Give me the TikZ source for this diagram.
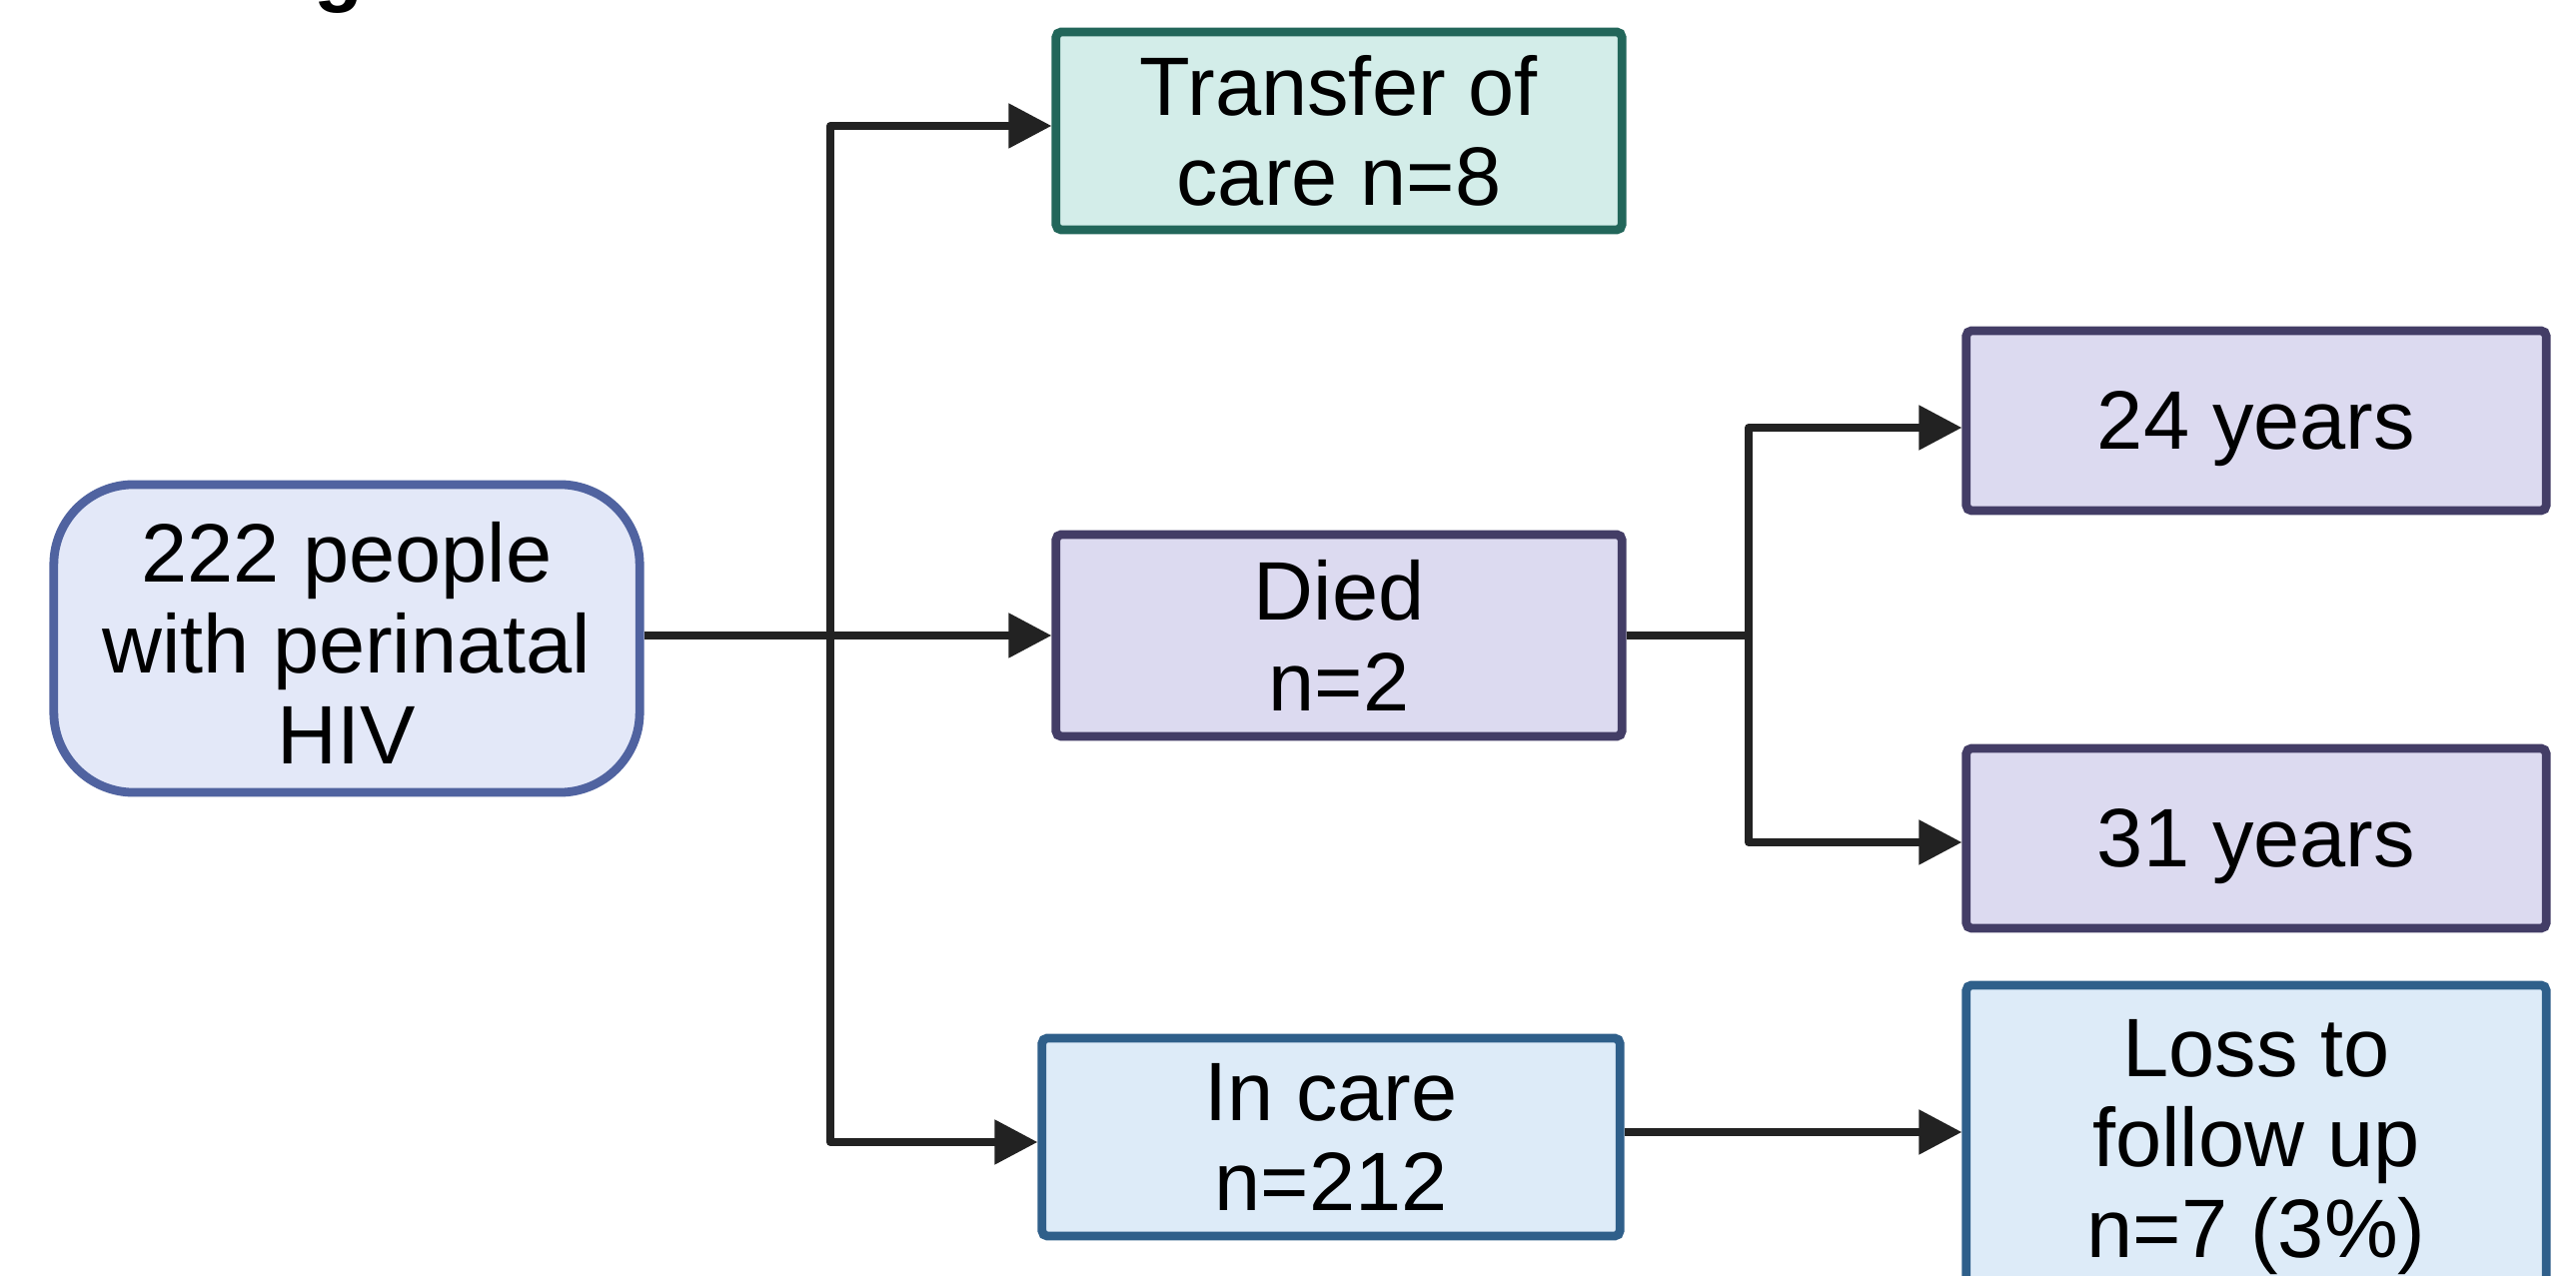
\documentclass[tikz,border=0pt]{standalone}
\usepackage{fontspec}
\setmainfont{Liberation Sans}
\usetikzlibrary{arrows.meta}

% box colours
\definecolor{srcfill}{HTML}{E3E8F8}
\definecolor{srcline}{HTML}{5063A0}
\definecolor{movefill}{HTML}{D3EDE9}
\definecolor{moveline}{HTML}{22665A}
\definecolor{diedfill}{HTML}{DCDAF0}
\definecolor{diedline}{HTML}{433D66}
\definecolor{carefill}{HTML}{DDEBF8}
\definecolor{careline}{HTML}{2F5F8A}
\definecolor{flowline}{HTML}{222222}

% pushes a three-line text a bit lower in its box
\newcommand{\firststrut}{\rule{0pt}{0.69cm}}

\begin{document}
\begin{tikzpicture}[x=0.01cm, y=-0.01cm,
        every node/.style={font=\fontsize{23.6}{25.8}\selectfont, align=center, inner sep=0pt},
        box/.style={draw, line width=2.5pt, rounded corners=1.5pt, minimum width=5.66cm, minimum height=2.02cm},
        agebox/.style={box, draw=diedline, fill=diedfill, minimum width=5.8cm, minimum height=1.8cm},
        flow/.style={draw=flowline, line width=2.3pt, line join=round, -{Triangle[length=0.43cm, width=0.43cm]}}]
        \useasboundingbox (0,0) rectangle (2578,1277);
        \clip (0,0) rectangle (2578,1277);

        % Title (cut off at the top)
        \node[anchor=base west, font=\fontsize{22.8}{24}\selectfont\bfseries] (title) at (314,-3) {g};

        % Start
        \node[box, draw=srcline, fill=srcfill, rounded corners=0.8cm, minimum width=5.86cm, minimum height=3.08cm] (src) at (347,639) {\firststrut 222 people\\with perinatal\\HIV};

        % First branch
        \node[box, draw=moveline, fill=movefill, minimum height=1.98cm] (transfer) at (1340,131) {Transfer of\\care n=8};
        \node[box, draw=diedline, fill=diedfill] (died) at (1340,636) {Died\\n=2};
        \node[box, draw=careline, fill=carefill, minimum width=5.78cm, minimum height=1.98cm] (incare) at (1332,1138) {In care\\n=212};

        % Second branch
        \node[agebox] (age24) at (2258,421) {24 \smash{years}};
        \node[agebox] (age31) at (2258,839) {31 \smash{years}};
        \node[box, draw=careline, fill=carefill, minimum width=5.8cm, minimum height=3.12cm] (loss) at (2258,1142) {\firststrut Loss to\\follow up\\n=7 (3\%)};

        % Split points
        \coordinate (split) at (831,636);
        \coordinate (splitdied) at (1750,636);

        % Arrows
        \draw[flow] (src.east |- died.west) -- (died.west);
        \draw[flow] (split) |- ([yshift=0.05cm]transfer.west);
        \draw[flow] (split) |- ([yshift=-0.05cm]incare.west);
        \draw[draw=flowline, line width=2.3pt] (died.east) -- (splitdied);
        \draw[flow] (splitdied) |- ([yshift=-0.07cm]age24.west);
        \draw[flow] (splitdied) |- ([yshift=-0.04cm]age31.west);
        \draw[flow] ([yshift=0.05cm]incare.east) -- ([yshift=0.05cm]incare.east -| loss.west);
    \end{tikzpicture}
\end{document}
